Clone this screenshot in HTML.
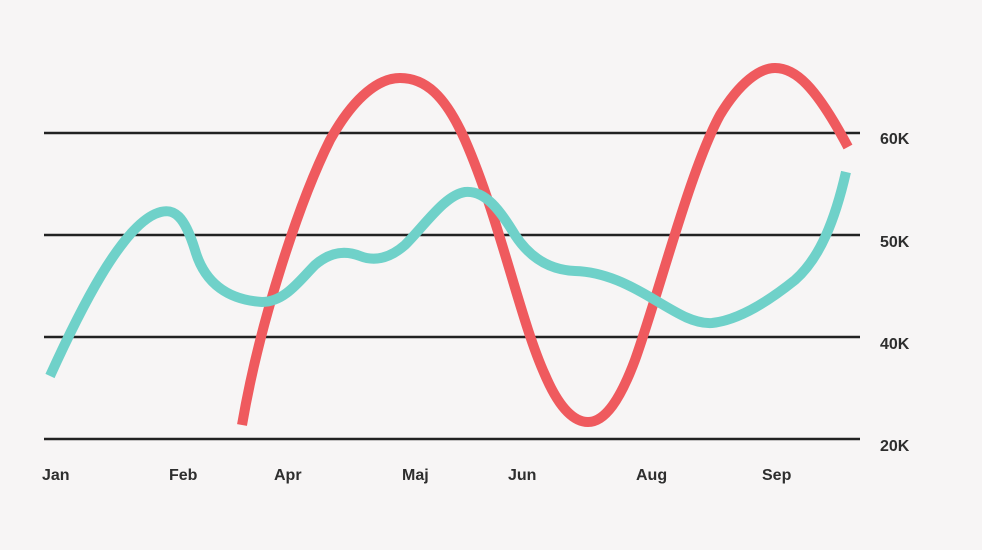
<!DOCTYPE html>
<html><head><meta charset="utf-8"><style>
html,body{margin:0;padding:0;background:#f7f5f5;}
svg{display:block}
text{font-family:"Liberation Sans",sans-serif;font-weight:bold;fill:#2e2e2e;font-size:16px}
</style></head><body>
<svg width="982" height="550" viewBox="0 0 982 550">
<rect width="982" height="550" fill="#f7f5f5"/>
<g stroke="#222" stroke-width="2.5">
<line x1="44" y1="133" x2="860" y2="133"/>
<line x1="44" y1="235" x2="860" y2="235"/>
<line x1="44" y1="337" x2="860" y2="337"/>
<line x1="44" y1="439" x2="860" y2="439"/>
</g>
<g>
<text x="880" y="144">60K</text>
<text x="880" y="247">50K</text>
<text x="880" y="349">40K</text>
<text x="880" y="451">20K</text>
<text x="42" y="480">Jan</text>
<text x="169" y="480">Feb</text>
<text x="274" y="480">Apr</text>
<text x="402" y="480">Maj</text>
<text x="508" y="480">Jun</text>
<text x="636" y="480">Aug</text>
<text x="762" y="480">Sep</text>
</g>
<path fill="none" stroke="#ef5a5e" stroke-width="10" stroke-linecap="butt"
d="M242,425 C260,320 300,200 330,140 C355,95 380,78 400,78 C425,78 445,95 465,140 C500,220 520,320 545,375 C560,410 575,422 588,422 C605,422 620,400 635,360 C660,290 690,170 720,115 C740,82 760,68 775,68 C795,68 815,85 848,147"/>
<path fill="none" stroke="#6fd1c9" stroke-width="10" stroke-linecap="butt"
d="M50,376 C80,310 120,230 155,214 C175,205 185,218 195,250 C205,285 230,300 262,302 C285,302 300,280 315,265 C330,252 345,250 360,256 C375,262 390,258 405,245 C425,225 445,195 465,192 C485,190 500,210 515,235 C530,258 550,270 575,271 C605,272 630,285 655,300 C680,315 695,324 712,323 C740,320 770,300 795,280 C820,258 835,220 846,172"/>
</svg>
</body></html>
